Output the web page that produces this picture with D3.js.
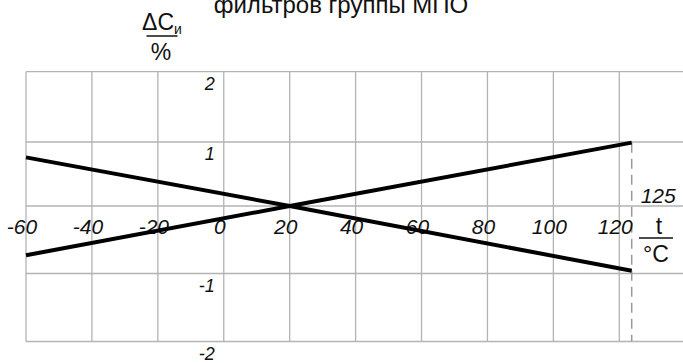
<!DOCTYPE html>
<html>
<head>
<meta charset="utf-8">
<script src="https://cdn.jsdelivr.net/npm/d3@7"></script>
<style>
  body { margin: 0; background: #fff; }
  svg text { font-family: "Liberation Sans", Arial, sans-serif; fill: #111; }
</style>
</head>
<body>
<div id="chart"></div>
<script>
// temperature dependence of capacitance change, two boundary lines

var titleText = "фильтров группы МПО";
var xTicks = [-60, -40, -20, 0, 20, 40, 60, 80, 100, 120];
var yGrid = [2, 1, 0, -1, -2];
var yLabels = [2, 1, -1, -2];
var temps = [-60, 20, 125];          // °C
var upperSeries = [-0.73, 0, 0.99];  // rising line, %
var lowerSeries = [0.76, 0, -0.96];  // falling line, %
var tMax = 125;

var WIDTH = 683, HEIGHT = 363;

var svg = d3.select("#chart").append("svg")
    .attr("width", WIDTH)
    .attr("height", HEIGHT);

// the scanned grid is a bit uneven, so polylinear scales follow it
var x = d3.scaleLinear().domain([-60, 120, 125]).range([26, 619.3, 631.7]);
var y = d3.scaleLinear().domain([2, 1, 0, -1, -2]).range([71.7, 142, 206, 273.5, 341.5]);

// grid
svg.selectAll("line.hgrid")
    .data(yGrid)
    .enter()
    .append("line")
    .attr("class", "hgrid")
    .attr("x1", x(-60))
    .attr("x2", WIDTH)
    .attr("y1", function(d) { return y(d); })
    .attr("y2", function(d) { return y(d); })
    .attr("stroke", "#b3b3b3")
    .attr("stroke-width", 1.3);

svg.selectAll("line.vgrid")
    .data(xTicks)
    .enter()
    .append("line")
    .attr("class", "vgrid")
    .attr("x1", function(d) { return x(d); })
    .attr("x2", function(d) { return x(d); })
    .attr("y1", y(2))
    .attr("y2", y(-2))
    .attr("stroke", "#b3b3b3")
    .attr("stroke-width", 1.3);

// dashed limit at 125 °C
svg.append("line")
    .attr("x1", x(tMax))
    .attr("x2", x(tMax))
    .attr("y1", y(upperSeries[2]))
    .attr("y2", y(-2))
    .attr("stroke", "#9a9a9a")
    .attr("stroke-width", 1.5)
    .attr("stroke-dasharray", "10,6");

// x tick labels
svg.selectAll("text.xlab")
    .data(xTicks)
    .enter()
    .append("text")
    .attr("class", "xlab")
    .attr("x", function(d) { return x(d) - 4; })
    .attr("y", y(0) + 27.5)
    .attr("text-anchor", "middle")
    .attr("font-size", 21)
    .attr("font-style", "italic")
    .text(function(d) { return d; });

// y tick labels
svg.selectAll("text.ylab")
    .data(yLabels)
    .enter()
    .append("text")
    .attr("class", "ylab")
    .attr("x", x(0) - 9)
    .attr("y", function(d) { return y(d) + 18; })
    .attr("text-anchor", "end")
    .attr("font-size", 18)
    .attr("font-style", "italic")
    .text(function(d) { return d; });

svg.append("text")
    .attr("x", x(tMax) + 9)
    .attr("y", y(0) - 3.5)
    .attr("font-size", 21)
    .attr("font-style", "italic")
    .text(tMax);

// lines
var line = d3.line()
    .x(function(d) { return x(d[0]); })
    .y(function(d) { return y(d[1]); });

[upperSeries, lowerSeries].forEach(function(series) {
    svg.append("path")
        .datum(d3.zip(temps, series))
        .attr("d", line)
        .attr("fill", "none")
        .attr("stroke", "#000")
        .attr("stroke-width", 4);
});

// title (the reference shows it cut off at the top edge)
svg.append("text")
    .attr("x", 341)
    .attr("y", 13)
    .attr("text-anchor", "middle")
    .attr("font-size", 24)
    .text(titleText);

// y unit: ΔCи / %
var yUnit = svg.append("g").attr("transform", "translate(162,0)");
var dc = yUnit.append("text")
    .attr("x", 0)
    .attr("y", 29.5)
    .attr("text-anchor", "middle")
    .attr("font-size", 23);
dc.append("tspan").text("ΔC");
dc.append("tspan").attr("font-size", 14).attr("dy", 4).text("и");
yUnit.append("line")
    .attr("x1", -15.5).attr("x2", 15.5)
    .attr("y1", 36).attr("y2", 36)
    .attr("stroke", "#111").attr("stroke-width", 1.5);
yUnit.append("text")
    .attr("x", -1)
    .attr("y", 59.5)
    .attr("text-anchor", "middle")
    .attr("font-size", 23)
    .text("%");

// x unit: t / °C
var xUnit = svg.append("g").attr("transform", "translate(656,0)");
xUnit.append("text")
    .attr("x", 3)
    .attr("y", 233.5)
    .attr("text-anchor", "middle")
    .attr("font-size", 23)
    .text("t");
xUnit.append("line")
    .attr("x1", -17).attr("x2", 17)
    .attr("y1", 238).attr("y2", 238)
    .attr("stroke", "#111").attr("stroke-width", 1.5);
xUnit.append("text")
    .attr("x", 0)
    .attr("y", 262)
    .attr("text-anchor", "middle")
    .attr("font-size", 23)
    .text("°C");
</script>
</body>
</html>
